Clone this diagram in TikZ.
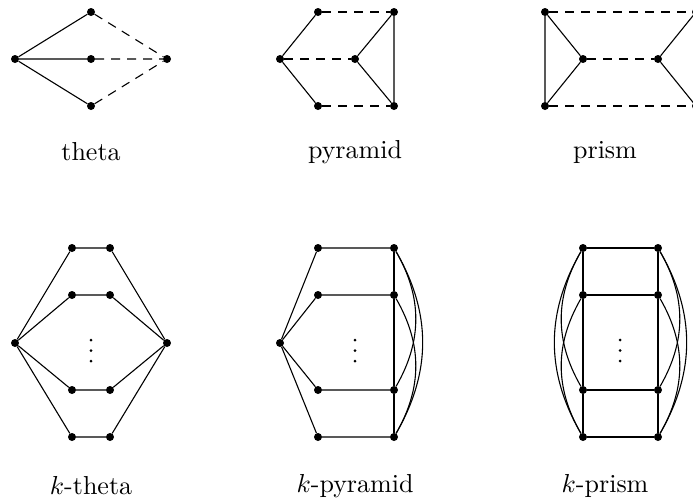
\documentclass[tikz,border=0pt]{standalone}
\begin{document}
\begin{tikzpicture}[x=1pt,y=1pt,
  vtx/.style={circle,fill=black,inner sep=0pt,minimum size=8pt},
  edge/.style={line width=1.1pt},
  dsh/.style={line width=1.1pt,dash pattern=on 9pt off 7pt},
  lbl/.style={scale=2.6,inner sep=0pt},
  dotv/.style={circle,fill=black,inner sep=0pt,minimum size=3pt}]
\useasboundingbox (0,0) rectangle (693,-501);
\clip (0,0) rectangle (693,-501);
% theta
\node[vtx] (tL) at (15,-59) {};
\node[vtx] (tT) at (91,-12) {};
\node[vtx] (tM) at (91,-59) {};
\node[vtx] (tB) at (91,-106) {};
\node[vtx] (tR) at (167,-59) {};
\draw[edge] (tL)--(tT) (tL)--(tM) (tL)--(tB);
\draw[dsh] (tT)--(tR) (tM)--(tR) (tB)--(tR);
\node[lbl] (lt) at (91,-152) {theta};
% pyramid
\node[vtx] (pa) at (280,-59) {};
\node[vtx] (pb) at (318,-12) {};
\node[vtx] (pc) at (318,-106) {};
\node[vtx] (pd) at (355,-59) {};
\node[vtx] (pe) at (394,-12) {};
\node[vtx] (pf) at (394,-106) {};
\draw[edge] (pa)--(pb) (pa)--(pc) (pd)--(pe) (pd)--(pf) (pe)--(pf);
\draw[dsh] (pa)--(pd) (pb)--(pe) (pc)--(pf);
\node[lbl] (lp) at (355,-152) {pyramid};
% prism
\node[vtx] (r1) at (545,-12) {};
\node[vtx] (r2) at (545,-106) {};
\node[vtx] (r3) at (583,-59) {};
\node[vtx] (r4) at (658,-59) {};
\node[vtx] (r5) at (696,-12) {};
\node[vtx] (r6) at (696,-106) {};
\draw[edge] (r1)--(r2) (r1)--(r3) (r2)--(r3) (r4)--(r5) (r4)--(r6) (r5)--(r6);
\draw[dsh] (r1)--(r5) (r3)--(r4) (r2)--(r6);
\node[lbl] (lr) at (605,-152) {prism};
% k-theta
\node[vtx] (kL) at (15,-343) {};
\node[vtx] (kR) at (167,-343) {};
\foreach \i/\y in {1/248,2/295,3/390,4/437}{
  \node[vtx] (ka\i) at (72,-\y) {};
  \node[vtx] (kb\i) at (110,-\y) {};
  \draw[edge] (kL)--(ka\i)--(kb\i)--(kR);
}
\foreach \j/\y in {1/340,2/350.5,3/361}{\node[dotv] (kd\j) at (91,-\y) {};}
\node[lbl] (lkt) at (91,-486) {$k$-theta};
% k-pyramid
\node[vtx] (qA) at (280,-343) {};
\foreach \i/\y in {1/248,2/295,3/390,4/437}{
  \node[vtx] (qa\i) at (318,-\y) {};
  \node[vtx] (qb\i) at (394,-\y) {};
  \draw[edge] (qA)--(qa\i)--(qb\i);
}
\draw[edge] (qb1)--(qb2)--(qb3)--(qb4);
\draw[edge] (qb1) to[bend left=30] (qb3);
\draw[edge] (qb2) to[bend left=30] (qb4);
\draw[edge] (qb1) to[bend left=30] (qb4);
\foreach \j/\y in {1/340,2/350.5,3/361}{\node[dotv] (qd\j) at (355,-\y) {};}
\node[lbl] (lkp) at (355,-486) {$k$-pyramid};
% k-prism
\foreach \i/\y in {1/248,2/295,3/390,4/437}{
  \node[vtx] (sa\i) at (583,-\y) {};
  \node[vtx] (sb\i) at (658,-\y) {};
  \draw[edge] (sa\i)--(sb\i);
}
\draw[edge] (sa1)--(sa2)--(sa3)--(sa4);
\draw[edge] (sb1)--(sb2)--(sb3)--(sb4);
\draw[edge] (sb1) to[bend left=30] (sb3);
\draw[edge] (sb2) to[bend left=30] (sb4);
\draw[edge] (sb1) to[bend left=30] (sb4);
\draw[edge] (sa1) to[bend right=30] (sa3);
\draw[edge] (sa2) to[bend right=30] (sa4);
\draw[edge] (sa1) to[bend right=30] (sa4);
\foreach \j/\y in {1/340,2/350.5,3/361}{\node[dotv] (sd\j) at (620,-\y) {};}
\node[lbl] (lks) at (605,-486) {$k$-prism};
\end{tikzpicture}
\end{document}
